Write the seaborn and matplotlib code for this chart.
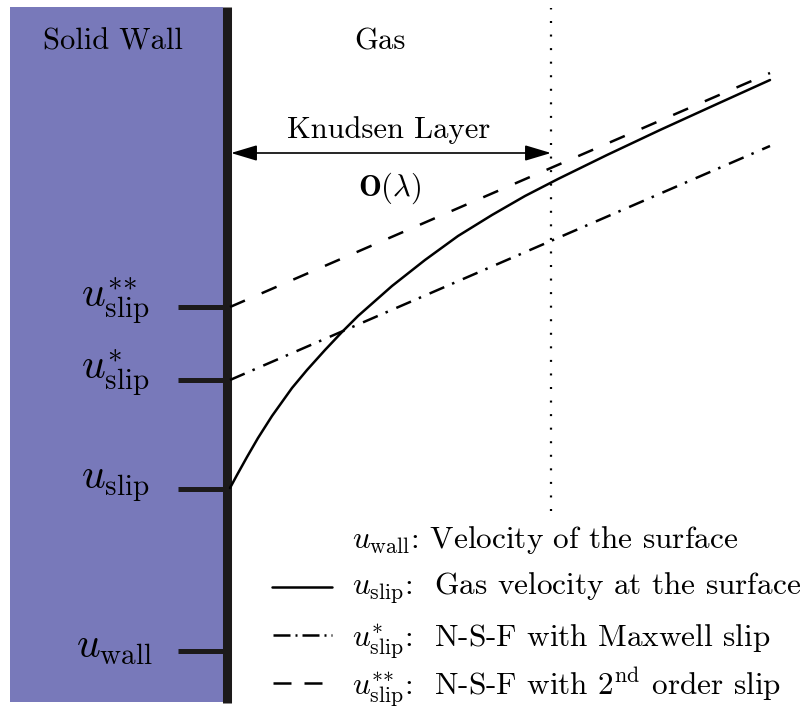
import numpy as np
import pandas as pd
import matplotlib
matplotlib.use("Agg")
import matplotlib.pyplot as plt
import seaborn as sns

# ---------------- data (x = distance from wall, y = velocity) ----------------
tick_labels = [r"$u_{\rm wall}$", r"$u_{\rm slip}$", r"$u^{*}_{\rm slip}$", r"$u^{{*}{*}}_{\rm slip}$"]
tick_values = [60, 222, 331, 404]
label_baselines = [53, 222, 331, 403]

gas_x = [3, 10, 20, 31, 45, 65, 80, 98, 115, 131, 148, 165, 198, 231, 265, 298, 331, 380, 433, 490, 543]
gas_u = [223, 236, 254, 273, 295, 323, 341, 361, 379, 395, 410, 425, 451, 475, 496, 515, 532, 556, 581, 607, 631]

maxwell_x = [3, 543]
maxwell_u = [331, 565]

second_x = [3, 543]
second_u = [404, 638]

knudsen_edge = 324
wall_top, wall_bottom = 704, 8

legend_texts = [
    r"$u_{\rm wall}$: Velocity of the surface",
    r"$u_{\rm slip}$:  Gas velocity at the surface",
    r"$u^{*}_{\rm slip}$:  N-S-F with Maxwell slip",
    r"$u^{{*}{*}}_{\rm slip}$:  N-S-F with 2$^{\rm nd}$ order slip",
]
legend_baselines = [163, 116, 64, 16]

# ---------------- style ----------------
sns.set_theme(style="white")
plt.rcParams["font.family"] = ["cmr10", "DejaVu Serif"]
plt.rcParams["mathtext.fontset"] = "cm"
plt.rcParams["axes.unicode_minus"] = False
plt.rcParams["text.color"] = "black"

fig = plt.figure(figsize=(8.11, 7.11), dpi=100)
ax = fig.add_axes([0, 0, 1, 1])
ax.set_xlim(-227, 584)
ax.set_ylim(0, 711)
ax.axis("off")

LW = 1.8
DASHED = (0, (6.5, 7.3))
DASHDOT = (0, (6.4, 3.4, 1.0, 3.7))

# solid wall
ax.axvspan(-217, -4, ymin=9 / 711, ymax=704 / 711, color="#7879BA", lw=0)
ax.plot([0, 0], [wall_bottom, wall_top], color="#1c1a1a", lw=6.5, solid_capstyle="butt")

# ticks on the wall
for v, lab, b in zip(tick_values, tick_labels, label_baselines):
    ax.plot([-49, 0], [v, v], color="#1c1a1a", lw=3.6, solid_capstyle="butt")
    ax.text(-112, b, lab, ha="center", va="baseline", fontsize=30, color="black")

# curves
df_gas = pd.DataFrame({"x": gas_x, "u": gas_u})
sns.lineplot(data=df_gas, x="x", y="u", ax=ax, color="black", lw=LW, sort=False,
             solid_joinstyle="round")
df_max = pd.DataFrame({"x": maxwell_x, "u": maxwell_u})
sns.lineplot(data=df_max, x="x", y="u", ax=ax, color="black", lw=LW, linestyle=DASHDOT, sort=False)
df_sec = pd.DataFrame({"x": second_x, "u": second_u})
sns.lineplot(data=df_sec, x="x", y="u", ax=ax, color="black", lw=LW, linestyle=DASHED, sort=False)

# Knudsen layer edge
ax.plot([knudsen_edge, knudsen_edge], [200, 703], color="black", lw=1.6,
        linestyle=(0, (0.9, 5.2)), dash_capstyle="butt")

# Knudsen arrow
ax.annotate("", xy=(knudsen_edge, 558), xytext=(4, 558),
            arrowprops=dict(arrowstyle="<|-|>,head_length=1.0,head_width=0.3",
                            color="black", lw=1.2, shrinkA=0, shrinkB=0,
                            mutation_scale=16))

ax.text(-114, 669, "Solid Wall", ha="center", va="center", fontsize=22, color="black")
ax.text(153, 669, "Gas", ha="center", va="center", fontsize=22, color="black")
ax.text(162, 581, "Knudsen Layer", ha="center", va="center", fontsize=22, color="black")
ax.text(163, 523, r"$\mathbf{O}(\lambda)$", ha="center", va="center", fontsize=22, color="black")

# legend
ax.plot([45, 105], [124, 124], color="black", lw=LW)
ax.plot([46, 105], [76, 76], color="black", lw=LW, linestyle=(0, (6.8, 2.0, 0.8, 2.0)))
ax.plot([46, 105], [28, 28], color="black", lw=LW, linestyle=(0, (7.2, 5.2)))
for t, b in zip(legend_texts, legend_baselines):
    ax.text(125, b, t, ha="left", va="baseline", fontsize=22.5, color="black")

fig.savefig("out.png", dpi=100)
